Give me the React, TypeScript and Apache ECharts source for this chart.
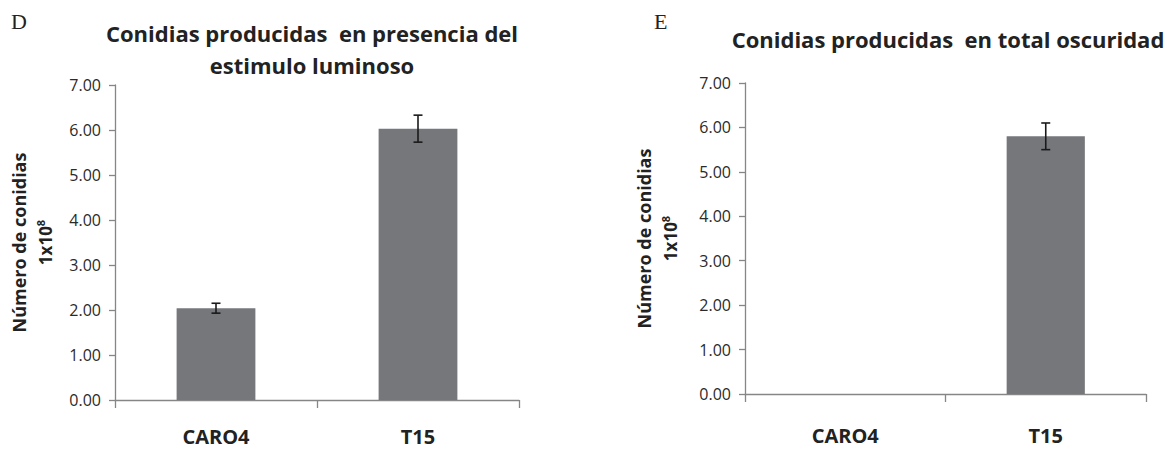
import React, { useEffect, useRef } from "react";
import * as echarts from "echarts";

const categories = ["CARO4", "T15"];
const lightValues = [2.04, 6.03];
const lightErrors = [0.11, 0.3];
const darkValues = [0, 5.8];
const darkErrors = [0, 0.3];
const yTicks = { min: 0, max: 7, interval: 1 };

const FONT = '"Open Sans", "Noto Sans", sans-serif';
const BAR = "#76777b";
const AXIS = "#868686";
const TEXT = "#222222";

function errorData(values: number[], errors: number[]) {
  return values.map((v, i) => [i, v - errors[i], v + errors[i], errors[i]]);
}

const renderError = (params: any, api: any) => {
  if (api.value(3) === 0) return null;
  const x = api.value(0);
  const lo = api.coord([x, api.value(1)]);
  const hi = api.coord([x, api.value(2)]);
  const half = 4.5;
  const style = { stroke: "#1a1a1a", lineWidth: 1.6 };
  return {
    type: "group",
    children: [
      { type: "line", shape: { x1: lo[0], y1: lo[1], x2: hi[0], y2: hi[1] }, style },
      { type: "line", shape: { x1: lo[0] - half, y1: lo[1], x2: lo[0] + half, y2: lo[1] }, style },
      { type: "line", shape: { x1: hi[0] - half, y1: hi[1], x2: hi[0] + half, y2: hi[1] }, style },
    ],
  };
};

function yAxisCfg(gridIndex: number, nameGap: number) {
  return {
    type: "value",
    gridIndex,
    min: yTicks.min,
    max: yTicks.max,
    interval: yTicks.interval,
    axisLine: { show: true, lineStyle: { color: AXIS, width: 1.3 } },
    axisTick: { show: true, length: 6, lineStyle: { color: AXIS, width: 1.3 } },
    splitLine: { show: false },
    axisLabel: {
      formatter: (v: number) => v.toFixed(2),
      fontSize: 16,
      fontFamily: FONT,
      color: "#2a2a2a",
      margin: 14,
    },
    name: "{a|Número de conidias}\n{b|1x10}{c|8}",
    nameLocation: "middle",
    nameGap,
    nameTextStyle: {
      rich: {
        a: { fontSize: 18, fontWeight: "bold", fontFamily: FONT, color: TEXT, lineHeight: 26 },
        b: { fontSize: 17, fontWeight: "bold", fontFamily: FONT, color: TEXT, lineHeight: 26 },
        c: { fontSize: 11, fontWeight: "bold", fontFamily: FONT, color: TEXT, lineHeight: 26, padding: [0, 0, 9, 0] },
      },
    },
  };
}

function xAxisCfg(gridIndex: number, margin: number) {
  return {
    type: "category",
    gridIndex,
    data: categories,
    axisLine: { show: true, lineStyle: { color: AXIS, width: 1.3 } },
    axisTick: { show: true, length: 8, lineStyle: { color: AXIS, width: 1.3 } },
    axisLabel: { fontSize: 20, fontWeight: "bold", fontFamily: FONT, color: TEXT, margin },
  };
}

const titleStyle = (text: string) => ({
  text,
  fontSize: 22,
  fontWeight: "bold",
  fontFamily: FONT,
  fill: TEXT,
  align: "center",
  verticalAlign: "middle",
});

export default function App() {
  const ref = useRef<HTMLDivElement>(null);
  useEffect(() => {
    if (!ref.current) return;
    const chart = echarts.init(ref.current, null, { renderer: "svg" });
    chart.setOption({
      animation: false,
      backgroundColor: "#ffffff",
      grid: [
        { left: 115, top: 85, width: 404, height: 315 },
        { left: 745, top: 83, width: 401, height: 311 },
      ],
      xAxis: [xAxisCfg(0, 26), xAxisCfg(1, 31)],
      yAxis: [yAxisCfg(0, 57), yAxisCfg(1, 62)],
      series: [
        {
          type: "bar",
          xAxisIndex: 0,
          yAxisIndex: 0,
          data: lightValues,
          barWidth: "39%",
          itemStyle: { color: BAR },
        },
        {
          type: "custom",
          xAxisIndex: 0,
          yAxisIndex: 0,
          data: errorData(lightValues, lightErrors),
          renderItem: renderError,
          z: 5,
        },
        {
          type: "bar",
          xAxisIndex: 1,
          yAxisIndex: 1,
          data: darkValues,
          barWidth: "39%",
          itemStyle: { color: BAR },
        },
        {
          type: "custom",
          xAxisIndex: 1,
          yAxisIndex: 1,
          data: errorData(darkValues, darkErrors),
          renderItem: renderError,
          z: 5,
        },
      ],
      graphic: [
        {
          type: "text",
          x: 11,
          y: 21,
          style: { text: "D", fontSize: 22, fontFamily: '"Liberation Serif", serif', fill: TEXT, verticalAlign: "middle" },
        },
        {
          type: "text",
          x: 654,
          y: 21,
          style: { text: "E", fontSize: 22, fontFamily: '"Liberation Serif", serif', fill: TEXT, verticalAlign: "middle" },
        },
        { type: "text", x: 312, y: 33, style: titleStyle("Conidias producidas  en presencia del") },
        { type: "text", x: 312, y: 65, style: titleStyle("estimulo luminoso") },
        { type: "text", x: 948, y: 39, style: titleStyle("Conidias producidas  en total oscuridad") },
      ],
    });
    return () => chart.dispose();
  }, []);
  return (
    <div
      ref={ref}
      style={{ position: "absolute", left: 0, top: 0, width: 1167, height: 449 }}
    />
  );
}
